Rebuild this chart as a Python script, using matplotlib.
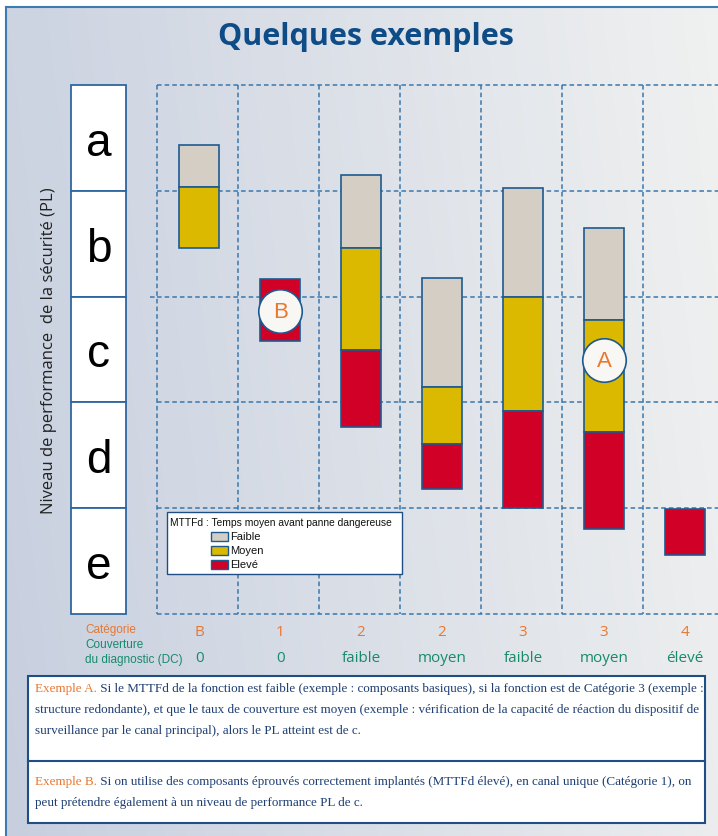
import matplotlib
matplotlib.use('Agg')
import matplotlib.pyplot as plt
import matplotlib.font_manager as fm
from matplotlib.patches import Rectangle
from matplotlib.transforms import blended_transform_factory
import numpy as np

# ---------------- data ----------------
title = "Quelques exemples"
y_label = "Niveau de performance  de la sécurité (PL)"
pl_levels = ['a', 'b', 'c', 'd', 'e']
categories = ['B', '1', '2', '2', '3', '3', '4']
dc_labels = ['0', '0', 'faible', 'moyen', 'faible', 'moyen', 'élevé']
# PL range (0 = top of 'a', 5 = bottom of 'e') covered by each MTTFd band, per column
faible_top    = [0.57, None, 0.85, 1.82, 0.97, 1.35, None]
faible_bottom = [0.96, None, 1.54, 2.85, 2.00, 2.22, None]
moyen_top     = [0.96, None, 1.54, 2.85, 2.00, 2.22, None]
moyen_bottom  = [1.54, None, 2.50, 3.39, 3.08, 3.28, None]
eleve_top     = [None, 1.83, 2.50, 3.39, 3.08, 3.28, 4.01]
eleve_bottom  = [None, 2.42, 3.23, 3.82, 4.00, 4.20, 4.44]
example_names = ['A', 'B']
example_col = [5, 1]
example_level = [2.60, 2.14]
legend_title = "MTTFd : Temps moyen avant panne dangereuse"
legend_labels = ['Faible', 'Moyen', 'Elevé']
ex_a_head = "Exemple A."
ex_a_lines = [" Si le MTTFd de la fonction est faible (exemple : composants basiques), si la fonction est de Catégorie 3 (exemple :",
              "structure redondante), et que le taux de couverture est moyen (exemple : vérification de la capacité de réaction du dispositif de",
              "surveillance par le canal principal), alors le PL atteint est de c."]
ex_b_head = "Exemple B."
ex_b_lines = [" Si on utilise des composants éprouvés correctement implantés (MTTFd élevé), en canal unique (Catégorie 1), on",
              "peut prétendre également à un niveau de performance PL de c."]

# ---------------- style ----------------
W, H, DPI = 718, 837, 100
C_FAIBLE, C_MOYEN, C_ELEVE = '#d5cec5', '#dbb900', '#d10027'
EDGE = '#1d5a8f'
GRID = '#3a78ad'
ORANGE = '#e9772e'
GREEN = '#178a6c'
NAVY = '#0e4c88'
TXT = '#1d3f73'

names = {f.name for f in fm.fontManager.ttflist}
def pick(*cands):
    for c in cands:
        if c in names:
            return c
    return 'DejaVu Sans'
SANS = pick('Liberation Sans', 'Arial', 'DejaVu Sans')
HUMAN = pick('Open Sans', 'Lato', 'Noto Sans', 'DejaVu Sans')
NARROW = pick('Liberation Sans Narrow', 'Arial Narrow')
narrow_ok = NARROW != 'DejaVu Sans'
if not narrow_ok:
    NARROW = SANS
SERIF = pick('Liberation Serif', 'DejaVu Serif')

fig = plt.figure(figsize=(W / DPI, H / DPI), dpi=DPI)
fig.patch.set_facecolor('white')

def rect_px(x0, y0, x1, y1):
    return [x0 / W, 1 - y1 / H, (x1 - x0) / W, (y1 - y0) / H]

# background / pixel axes
pix = fig.add_axes([0, 0, 1, 1], zorder=0)
pix.set_xlim(0, W); pix.set_ylim(H, 0); pix.axis('off')
gx = np.linspace(0, 1, 300)
gy = np.linspace(0, 1, 300)
XX, YY = np.meshgrid(gx, gy)
t = np.clip(0.85 * XX + 0.12 * (1 - YY), 0, 1)
c0 = np.array([199, 207, 223]) / 255
c1 = np.array([241, 242, 241]) / 255
img = c0 * (1 - t[..., None]) + c1 * t[..., None]
pix.imshow(img, extent=(6, W, H, 8), aspect='auto', interpolation='bilinear', zorder=0)
pix.plot([6, 6], [H, 8], color='#3f7ab0', lw=1.5, zorder=1)
pix.plot([6, W], [8, 8], color='#3f7ab0', lw=1.5, zorder=1)

fig.text(366 / W, 1 - 37 / H, title, ha='center', va='center', fontsize=22,
         fontweight='bold', family=HUMAN, color=NAVY)

# ---------------- main chart axes ----------------
X0, X1, Y0, Y1 = 157, 718, 86, 615
COLW = 81.0
ax = fig.add_axes(rect_px(X0, Y0, X1, Y1), zorder=2)
ax.set_facecolor('none')
ax.set_xlim(0, (X1 - X0) / COLW)
ax.set_ylim(len(pl_levels), 0)
ax.axis('off')

ncol = len(categories)
ax.vlines(np.arange(ncol), 0, len(pl_levels), colors=GRID, lw=1.1,
          linestyles=(0, (3, 2)), zorder=1, clip_on=False)
ax.hlines(np.arange(len(pl_levels) + 1), 0, (X1 - X0) / COLW, colors=GRID, lw=1.1,
          linestyles=(0, (3, 2)), zorder=1, clip_on=False)
ax.hlines([2], -0.09, 0, colors=GRID, lw=1.1, linestyles=(0, (3, 2)), zorder=1, clip_on=False)

xc = np.arange(ncol) + 0.52
bw = 40 / COLW
for tops, bots, col in [(faible_top, faible_bottom, C_FAIBLE),
                        (moyen_top, moyen_bottom, C_MOYEN),
                        (eleve_top, eleve_bottom, C_ELEVE)]:
    xs = [x for x, tp in zip(xc, tops) if tp is not None]
    bs = [tp for tp in tops if tp is not None]
    hs = [b - tp for tp, b in zip(tops, bots) if tp is not None]
    ax.bar(xs, hs, bottom=bs, width=bw, color=col, edgecolor=EDGE, linewidth=1.2, zorder=3)

ex_x = [xc[c] for c in example_col]
ax.scatter(ex_x, example_level, s=980, facecolor='#f8f7f4', edgecolor=EDGE, linewidth=1.2, zorder=4)
for x, y, n in zip(ex_x, example_level, example_names):
    ax.text(x, y, n, ha='center', va='center', fontsize=16, color=ORANGE, family=SANS, zorder=5)

# category / DC labels
tr = blended_transform_factory(ax.transData, pix.transData)
for x, c in zip(xc, categories):
    ax.text(x, 633, c, transform=tr, ha='center', va='center', fontsize=11, color=ORANGE, family=HUMAN)
for x, d in zip(xc, dc_labels):
    ax.text(x, 659, d, transform=tr, ha='center', va='center', fontsize=11, color=GREEN, family=HUMAN)

nfs = 10 if narrow_ok else 8.5
pix.text(85, 630, "Catégorie", ha='left', va='center', fontsize=nfs, color=ORANGE, family=NARROW)
pix.text(85, 645, "Couverture", ha='left', va='center', fontsize=nfs, color=GREEN, family=NARROW)
pix.text(85, 660, "du diagnostic (DC)", ha='left', va='center', fontsize=nfs, color=GREEN, family=NARROW)

# ---------------- PL column ----------------
axp = fig.add_axes(rect_px(71, Y0, 126, Y1), zorder=2)
axp.set_facecolor('none')
axp.set_xlim(0, 1); axp.set_ylim(len(pl_levels), 0); axp.axis('off')
ly = np.arange(len(pl_levels)) + 0.5
axp.barh(ly, [1] * len(pl_levels), height=1, left=0, color='white', edgecolor='#2e67a0',
         linewidth=1.3, clip_on=False)
for y, l in zip(ly, pl_levels):
    axp.text(0.5, y + 0.16, l, ha='center', va='baseline', fontsize=33, family=SANS, color='black')

pix.text(49, 351, y_label, rotation=90, ha='center', va='center', fontsize=12,
         family=HUMAN, color='#222222', zorder=3)

# ---------------- legend (overlay axes, above the grid) ----------------
leg = fig.add_axes([0, 0, 1, 1], zorder=5)
leg.set_xlim(0, W); leg.set_ylim(H, 0); leg.axis('off'); leg.set_facecolor('none')
leg.add_patch(Rectangle((167, 513), 235, 62, facecolor='white', edgecolor='#1f4e85', lw=1.0, zorder=5))
lfs = 8.5 if narrow_ok else 7.4
leg.text(170, 523, legend_title, ha='left', va='center', fontsize=lfs, family=NARROW, color='#111111', zorder=6)
sw_y = [537, 551, 565]
for y, lab, col in zip(sw_y, legend_labels, [C_FAIBLE, C_MOYEN, C_ELEVE]):
    leg.add_patch(Rectangle((211, y - 4.5), 17, 9, facecolor=col, edgecolor=EDGE, lw=1.0, zorder=6))
    leg.text(230, y, lab, ha='left', va='center', fontsize=lfs + 0.6, family=NARROW, color='#111111', zorder=6)

# ---------------- text box ----------------
pix.add_patch(Rectangle((28, 677), 677, 147, facecolor='white', edgecolor='#1f4e85', lw=1.5, zorder=5))
pix.plot([28, 705], [762, 762], color='#1f4e85', lw=1.5, zorder=6)

fig.canvas.draw()
renderer = fig.canvas.get_renderer()

def width_px(s, fs):
    tt = pix.text(0, 0, s, fontsize=fs, family=SERIF)
    w = tt.get_window_extent(renderer).width
    tt.remove()
    return w

fs0 = 10.0
w0 = width_px(ex_a_head + ex_a_lines[0], fs0)
sfs = fs0 * 666 / w0

def two_color(x, y, head, rest):
    h = pix.text(x, y, head, ha='left', va='center', fontsize=sfs, family=SERIF, color=ORANGE, zorder=7)
    wh = h.get_window_extent(renderer).width
    pix.text(x + wh, y, rest, ha='left', va='center', fontsize=sfs, family=SERIF, color=TXT, zorder=7)

two_color(35, 689, ex_a_head, ex_a_lines[0])
pix.text(35, 710, ex_a_lines[1], ha='left', va='center', fontsize=sfs, family=SERIF, color=TXT, zorder=7)
pix.text(35, 731, ex_a_lines[2], ha='left', va='center', fontsize=sfs, family=SERIF, color=TXT, zorder=7)
two_color(35, 782, ex_b_head, ex_b_lines[0])
pix.text(35, 803, ex_b_lines[1], ha='left', va='center', fontsize=sfs, family=SERIF, color=TXT, zorder=7)

fig.savefig('out.png', dpi=DPI)
